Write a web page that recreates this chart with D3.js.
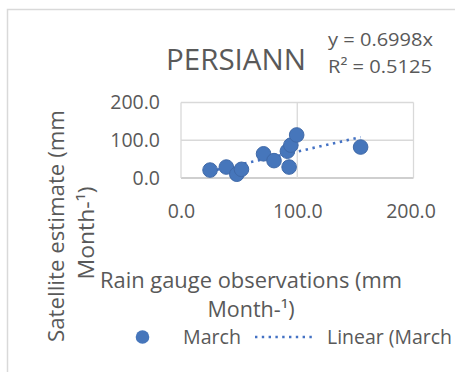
<!DOCTYPE html>
<html>
<head>
<meta charset="utf-8">
<script src="https://cdn.jsdelivr.net/npm/d3@7"></script>
<style>
  body { margin: 0; background: #fff; }
  svg { display: block; font-family: "Open Sans", sans-serif; }
</style>
</head>
<body>
<script>
// rain gauge (x) vs PERSIANN satellite estimate (y), March, mm/month
var gaugeObs = [25, 39, 48, 52, 71, 80, 93, 91.5, 94.5, 99.5, 154.5];
var satEst   = [21, 29, 10, 23, 64, 46, 29, 71, 87, 114, 82];
var xTicks = [0, 100, 200];
var yTicks = [0, 100, 200];
var slope = 0.6998;
var r2 = 0.5125;

function init() {
    var w = 455;
    var h = 372;
    var textCol = "#595959";
    var gridCol = "#d9d9d9";
    var dotCol = "#4676bb";

    var svg = d3.select("body")
                .append("svg")
                .attr("width", w)
                .attr("height", h);

    // chart frame (runs off the right and bottom edge)
    svg.append("rect")
        .attr("x", 7.5).attr("y", 9.5)
        .attr("width", 470).attr("height", 400)
        .attr("fill", "none")
        .attr("stroke", gridCol)
        .attr("stroke-width", 1.5);

    var xScale = d3.scaleLinear().domain([0, 200]).range([181, 413.5]);
    var yScale = d3.scaleLinear().domain([0, 200]).range([178, 102.5]);

    // gridlines
    svg.selectAll("line.hgrid")
        .data(yTicks)
        .enter()
        .append("line")
        .attr("class", "hgrid")
        .attr("x1", xScale(0)).attr("x2", xScale(200))
        .attr("y1", function (d) { return yScale(d); })
        .attr("y2", function (d) { return yScale(d); })
        .attr("stroke", function (d) { return d === 0 ? "#bfbfbf" : gridCol; })
        .attr("stroke-width", 1.3);

    svg.selectAll("line.vgrid")
        .data(xTicks)
        .enter()
        .append("line")
        .attr("class", "vgrid")
        .attr("y1", yScale(0)).attr("y2", yScale(200))
        .attr("x1", function (d) { return xScale(d); })
        .attr("x2", function (d) { return xScale(d); })
        .attr("stroke", gridCol)
        .attr("stroke-width", 1.3);

    // axes, labels only
    var xAxis = d3.axisBottom(xScale).tickValues(xTicks)
        .tickSize(0).tickPadding(26).tickFormat(d3.format(".1f"));
    var gx = svg.append("g")
        .attr("transform", "translate(0," + yScale(0) + ")")
        .call(xAxis);

    var yAxis = d3.axisLeft(yScale).tickValues(yTicks)
        .tickSize(0).tickPadding(21).tickFormat(d3.format(".1f"));
    var gy = svg.append("g")
        .attr("transform", "translate(" + xScale(0) + ",0)")
        .call(yAxis);

    [gx, gy].forEach(function (g) {
        g.select(".domain").remove();
        g.selectAll("text")
            .attr("fill", textCol)
            .style("font-family", "'Open Sans', sans-serif")
            .style("font-size", "19.5px");
    });
    // last x label sits a little inside the plot edge
    gx.selectAll(".tick text").filter(function (d) { return d === 200; }).attr("dx", -3);

    // linear trendline through the origin
    var xMin = d3.min(gaugeObs), xMax = d3.max(gaugeObs);
    svg.append("line")
        .attr("x1", xScale(xMin)).attr("y1", yScale(slope * xMin))
        .attr("x2", xScale(xMax)).attr("y2", yScale(slope * xMax))
        .attr("stroke", "#4472c4")
        .attr("stroke-width", 2.6)
        .attr("stroke-dasharray", "2.4,4.6");

    // points
    svg.selectAll("circle.pt")
        .data(d3.range(gaugeObs.length))
        .enter()
        .append("circle")
        .attr("class", "pt")
        .attr("cx", function (i) { return xScale(gaugeObs[i]); })
        .attr("cy", function (i) { return yScale(satEst[i]); })
        .attr("r", 7.3)
        .attr("fill", dotCol)
        .attr("stroke", "#3f69a8")
        .attr("stroke-width", 1);

    function label(txt, x, y, size, len, anchor) {
        return svg.append("text")
            .attr("x", x).attr("y", y)
            .attr("text-anchor", anchor || "start")
            .attr("font-size", size)
            .attr("fill", textCol)
            .attr("textLength", len)
            .attr("lengthAdjust", "spacingAndGlyphs")
            .text(txt);
    }

    // title and equation
    label("PERSIANN", 166, 70, 29, 140);
    label("y = " + slope + "x", 328, 46, 18, 105);
    label("R\u00b2 = " + r2, 328, 73, 18, 104);

    // y axis title
    label("Satellite estimate (mm", 0, 0, 21, 232, "middle")
        .attr("transform", "translate(64,226) rotate(-90)");
    label("Month-\u00b9)", 0, 0, 21, 93, "middle")
        .attr("transform", "translate(94,233) rotate(-90)");

    // x axis title
    label("Rain gauge observations (mm", 251, 288, 21, 302, "middle");
    label("Month-\u00b9)", 251, 317, 21, 87, "middle");

    // legend (the picture is cropped just after "March")
    svg.append("circle")
        .attr("cx", 142.5).attr("cy", 337)
        .attr("r", 6.8)
        .attr("fill", dotCol);
    label("March", 183, 344, 20, 58);
    svg.append("line")
        .attr("x1", 255).attr("x2", 316)
        .attr("y1", 337).attr("y2", 337)
        .attr("stroke", "#4472c4")
        .attr("stroke-width", 2.6)
        .attr("stroke-dasharray", "2.4,4.4");
    label("Linear (March", 327, 344, 20, 125);
}

window.onload = init;
</script>
</body>
</html>
